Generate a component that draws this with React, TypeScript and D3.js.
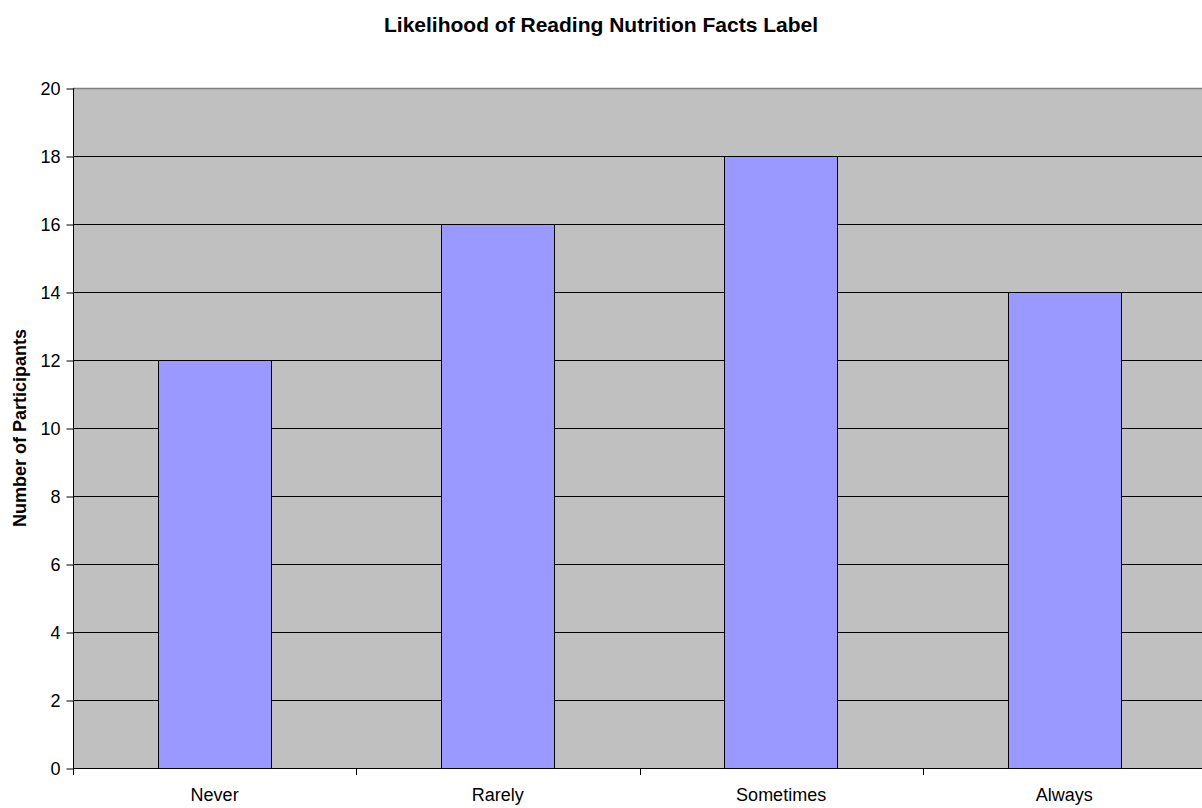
import * as d3 from 'd3';
import { useEffect, useRef } from 'react';

const width = 1202;
const height = 808;
const marginTop = 88;
const marginLeft = 73;
const plotRight = 1206;
const plotBottom = 768;

const categories = ['Never', 'Rarely', 'Sometimes', 'Always'];
const participants = [12, 16, 18, 14];
const yTicks = [0, 2, 4, 6, 8, 10, 12, 14, 16, 18, 20];

const title = 'Likelihood of Reading Nutrition Facts Label';
const yLabel = 'Number of Participants';
const font = 'Arial, "Liberation Sans", sans-serif';

export default function App() {
  const ref = useRef<HTMLDivElement>(null);

  useEffect(() => {
    if (!ref.current) return;

    const x = d3
      .scaleBand<string>()
      .domain(categories)
      .range([marginLeft, plotRight])
      .paddingInner(0.6)
      .paddingOuter(0.3);

    // boundaries between categories for the tick marks
    const xCat = d3.scaleBand<string>().domain(categories).range([marginLeft, plotRight]);

    const y = d3.scaleLinear().domain([0, 20]).range([plotBottom, marginTop]);

    const svg = d3
      .create('svg')
      .attr('width', width)
      .attr('height', height)
      .style('position', 'absolute')
      .style('left', 0)
      .style('top', 0)
      .style('font-family', font);

    // plot background
    svg
      .append('rect')
      .attr('x', marginLeft)
      .attr('y', marginTop)
      .attr('width', plotRight - marginLeft)
      .attr('height', plotBottom - marginTop)
      .attr('fill', '#c0c0c0');

    // grid lines
    svg
      .append('g')
      .selectAll('line')
      .data(yTicks.filter((d) => d > 0 && d < 20))
      .join('line')
      .attr('x1', marginLeft)
      .attr('x2', plotRight)
      .attr('y1', (d) => y(d) + 0.5)
      .attr('y2', (d) => y(d) + 0.5)
      .attr('stroke', '#000')
      .attr('stroke-width', 1);

    // top border
    svg
      .append('line')
      .attr('x1', marginLeft)
      .attr('x2', plotRight)
      .attr('y1', y(20) + 0.5)
      .attr('y2', y(20) + 0.5)
      .attr('stroke', '#808080')
      .attr('stroke-width', 1.5);

    // bars
    svg
      .append('g')
      .selectAll('rect')
      .data(categories)
      .join('rect')
      .attr('x', (d) => Math.round(x(d)!) + 0.5)
      .attr('y', (_, i) => y(participants[i]) + 0.5)
      .attr('width', Math.round(x.bandwidth()))
      .attr('height', (_, i) => y(0) - y(participants[i]))
      .attr('fill', '#9999ff')
      .attr('stroke', '#000')
      .attr('stroke-width', 1);

    // y axis
    const yAxis = svg
      .append('g')
      .attr('transform', `translate(${marginLeft + 0.5},0.5)`)
      .call(d3.axisLeft(y).tickValues(yTicks).tickSize(7).tickPadding(6));
    yAxis.select('.domain').remove();
    yAxis.selectAll('line').attr('stroke', '#000');
    yAxis
      .selectAll('text')
      .attr('fill', '#000')
      .style('font-size', '18px')
      .style('font-family', font);
    svg
      .append('line')
      .attr('x1', marginLeft + 0.5)
      .attr('x2', marginLeft + 0.5)
      .attr('y1', marginTop)
      .attr('y2', plotBottom + 7)
      .attr('stroke', '#000');

    // x axis
    svg
      .append('line')
      .attr('x1', marginLeft)
      .attr('x2', plotRight)
      .attr('y1', plotBottom + 0.5)
      .attr('y2', plotBottom + 0.5)
      .attr('stroke', '#000');
    svg
      .append('g')
      .selectAll('line')
      .data(categories.slice(1))
      .join('line')
      .attr('x1', (d) => Math.round(xCat(d)!) + 0.5)
      .attr('x2', (d) => Math.round(xCat(d)!) + 0.5)
      .attr('y1', plotBottom)
      .attr('y2', plotBottom + 7)
      .attr('stroke', '#000');
    svg
      .append('g')
      .selectAll('text')
      .data(categories)
      .join('text')
      .attr('x', (d) => xCat(d)! + xCat.bandwidth() / 2)
      .attr('y', plotBottom + 33)
      .attr('text-anchor', 'middle')
      .style('font-size', '18px')
      .text((d) => d);

    // title
    svg
      .append('text')
      .attr('x', width / 2)
      .attr('y', 32)
      .attr('text-anchor', 'middle')
      .style('font-size', '21px')
      .style('font-weight', 'bold')
      .text(title);

    // y label
    svg
      .append('text')
      .attr('transform', `translate(26,${(marginTop + plotBottom) / 2}) rotate(-90)`)
      .attr('text-anchor', 'middle')
      .style('font-size', '18px')
      .style('font-weight', 'bold')
      .text(yLabel);

    ref.current.innerHTML = '';
    ref.current.appendChild(svg.node()!);
  }, []);

  return <div ref={ref} />;
}
